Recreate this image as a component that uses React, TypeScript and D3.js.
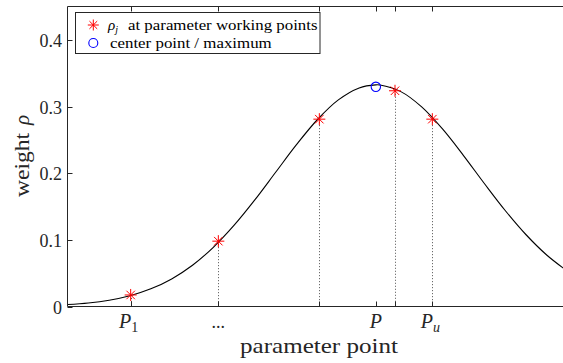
import React from "react";
import * as d3 from "d3";

// Curve samples, x in parameter units
const curveX = [0, 0.25, 0.5, 0.75, 1, 1.25, 1.5, 1.75, 2, 2.25, 2.5, 2.75, 3, 3.25, 3.5, 3.7, 3.75, 4, 4.25, 4.5, 4.75, 5, 5.25, 5.5, 5.75, 6];
const curveY = [0.0029, 0.0053, 0.0095, 0.0162, 0.0265, 0.0414, 0.0619, 0.0888, 0.1219, 0.1602, 0.2017, 0.2431, 0.2805, 0.3099, 0.3279, 0.3325, 0.3322, 0.3223, 0.2994, 0.2663, 0.2268, 0.1849, 0.1444, 0.108, 0.0773, 0.053];

// working points
const pointX = [0.758, 1.81, 3.022, 3.93, 4.378];
const pointY = [0.0173, 0.098, 0.281, 0.3236, 0.281];

// center point / maximum
const centerX = 3.7;
const centerY = 0.3295;

// x ticks
const xTickVals = [0.758, 1.81, 3.022, 3.7, 3.93, 4.378];
const xTickLabels = ["P1", "...", "", "P", "", "Pu"];

const yTicks = [0, 0.1, 0.2, 0.3, 0.4];

const legendItems = ["at parameter working points", "center point / maximum"];

const W = 563;
const H = 363;
const left = 67.5;
const right = 567.5;
const top = 6.5;
const bottom = 306.5;
const FONT = "'Liberation Serif', 'Times New Roman', serif";
const AX = "#262626";

function Star({ cx, cy, r }: { cx: number; cy: number; r: number }) {
  const d = r * Math.SQRT1_2;
  return (
    <g stroke="#ff0000" strokeWidth={1}>
      <line x1={cx - r} y1={cy} x2={cx + r} y2={cy} />
      <line x1={cx} y1={cy - r} x2={cx} y2={cy + r} />
      <line x1={cx - d} y1={cy - d} x2={cx + d} y2={cy + d} />
      <line x1={cx - d} y1={cy + d} x2={cx + d} y2={cy - d} />
    </g>
  );
}

export default function App() {
  const x = d3.scaleLinear().domain([0, 6]).range([left, right]);
  const y = d3.scaleLinear().domain([0, 0.45]).range([bottom, top]);
  const line = d3
    .line<number>()
    .x((_, i) => x(curveX[i]))
    .y((v) => y(v))
    .curve(d3.curveCatmullRom.alpha(0.5));
  const path = line(curveY) || "";

  return (
    <svg width={W} height={H} style={{ position: "absolute", left: 0, top: 0, background: "#fff" }}>
      <rect x={0} y={0} width={W} height={H} fill="#fff" />
      {/* dotted verticals */}
      {pointX.map((px, i) => (
        <line
          key={"d" + i}
          x1={Math.round(x(px)) + 0.5}
          x2={Math.round(x(px)) + 0.5}
          y1={y(pointY[i])}
          y2={bottom}
          stroke={AX}
          strokeWidth={1}
          strokeDasharray="1,2"
          opacity={0.8}
        />
      ))}
      {/* curve */}
      <path d={path} fill="none" stroke="#000" strokeWidth={1.1} />
      {/* axes box */}
      <line x1={left} x2={W + 10} y1={bottom} y2={bottom} stroke={AX} strokeWidth={1} />
      <line x1={left} x2={W + 10} y1={top} y2={top} stroke={AX} strokeWidth={1} />
      <line x1={left} x2={left} y1={top} y2={bottom} stroke={AX} strokeWidth={1} />
      {/* x ticks */}
      {xTickVals.map((v, i) => {
        const xx = Math.round(x(v)) + 0.5;
        return (
          <g key={"xt" + i}>
            <line x1={xx} x2={xx} y1={bottom} y2={bottom - 5} stroke={AX} />
            <line x1={xx} x2={xx} y1={top} y2={top + 5} stroke={AX} />
          </g>
        );
      })}
      {/* x tick labels */}
      {xTickLabels.map((lab, i) => {
        if (!lab) return null;
        const xx = x(xTickVals[i]);
        if (lab === "...") {
          return (
            <text key={"xl" + i} x={xx} y={328} fontFamily={FONT} fontSize={18} textAnchor="middle" fill={AX}>
              ...
            </text>
          );
        }
        const sub = lab.slice(1);
        return (
          <text key={"xl" + i} x={xx - (sub ? 2 : 0)} y={328} fontFamily={FONT} fontSize={20} textAnchor="middle" fill={AX}>
            <tspan fontStyle="italic">P</tspan>
            {sub && (
              <tspan fontSize={14} dy={4} fontStyle={sub === "u" ? "italic" : "normal"}>
                {sub}
              </tspan>
            )}
          </text>
        );
      })}
      {/* y ticks */}
      {yTicks.map((v, i) => {
        const yy = Math.round(y(v)) + 0.5;
        return (
          <g key={"yt" + i}>
            <line x1={left} x2={left + 5} y1={yy} y2={yy} stroke={AX} />
            <text x={62} y={yy + 6.5} fontFamily={FONT} fontSize={18} textAnchor="end" fill={AX}>
              {v === 0 ? "0" : String(v)}
            </text>
          </g>
        );
      })}
      {/* axis labels */}
      <text x={240} y={353} fontFamily={FONT} fontSize={21} textLength={158} lengthAdjust="spacingAndGlyphs" fill={AX}>
        parameter point
      </text>
      <g transform={`translate(29,197) rotate(-90)`}>
        <text x={0} y={0} fontFamily={FONT} fontSize={21} textLength={64} lengthAdjust="spacingAndGlyphs" fill={AX}>
          weight
        </text>
        <text x={72} y={0} fontFamily={FONT} fontSize={21} fontStyle="italic" fill={AX}>
          ρ
        </text>
      </g>
      {/* points */}
      {pointX.map((px, i) => (
        <Star key={"s" + i} cx={x(px)} cy={y(pointY[i])} r={6} />
      ))}
      <circle cx={x(centerX)} cy={y(centerY)} r={4.7} fill="none" stroke="#0000ff" strokeWidth={1.1} />
      {/* legend */}
      <rect x={75.5} y={12.5} width={244.5} height={41} fill="#fff" stroke={AX} strokeWidth={1} />
      <Star cx={93.3} cy={25} r={5.5} />
      <circle cx={93.3} cy={43} r={4.5} fill="none" stroke="#0000ff" strokeWidth={1.1} />
      <text x={108} y={30} fontFamily={FONT} fontSize={15} fill="#000">
        <tspan fontStyle="italic">ρ</tspan>
        <tspan fontSize={10} dy={3} fontStyle="italic">j</tspan>
      </text>
      <text x={128} y={30} fontFamily={FONT} fontSize={15} textLength={189.5} lengthAdjust="spacingAndGlyphs" fill="#000">
        {legendItems[0]}
      </text>
      <text x={110} y={48} fontFamily={FONT} fontSize={15} textLength={161.7} lengthAdjust="spacingAndGlyphs" fill="#000">
        {legendItems[1]}
      </text>
    </svg>
  );
}
